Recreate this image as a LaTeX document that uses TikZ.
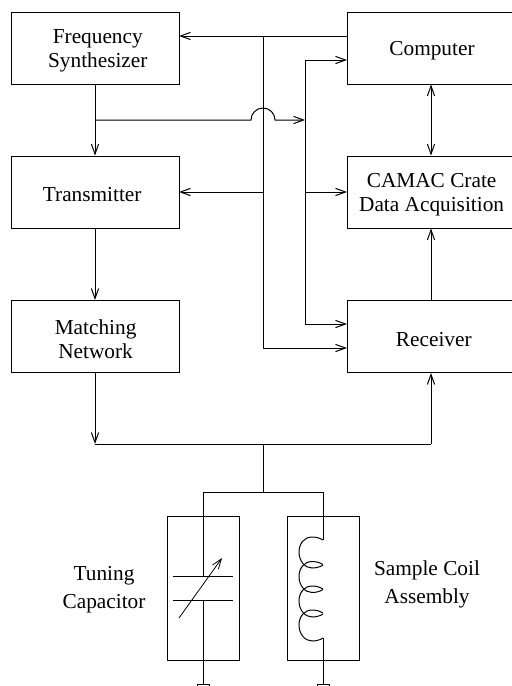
\documentclass[tikz,border=0pt]{standalone}
\usepackage{fontspec}
\setmainfont{Liberation Serif}
\usepackage{tikz}
\usetikzlibrary{arrows.meta}

\begin{document}
\begin{tikzpicture}[x=0.5pt,y=-0.5pt,line width=0.5pt,font=\fontsize{10.65}{12}\selectfont]
\tikzstyle{block}=[rectangle, draw=black, line width=0.5pt, minimum width=84pt, minimum height=36pt, inner sep=0pt]
\tikzstyle{part}=[rectangle, draw=black, line width=0.5pt, minimum width=36pt, minimum height=72pt, inner sep=0pt]
\tikzstyle{ground}=[rectangle, draw=black, line width=0.5pt, minimum width=6pt, minimum height=3pt, inner sep=0pt, anchor=north]
\tikzstyle{tag}=[align=center, inner sep=0pt, font=\fontsize{10.65}{14}\selectfont]
\tikzstyle{connect}=[-{Straight Barb[length=5pt,width=3.6pt]}]
\tikzstyle{both}=[{Straight Barb[length=5pt,width=3.6pt]}-{Straight Barb[length=5pt,width=3.6pt]}]
\clip (0,0) rectangle (512,686);
	\node[block] (freq) at (95,48) [label={[align=center,xshift=1.4pt,yshift=-1.4pt]center:{Frequency\\Synthesizer}}]{};
	\node[block] (trans) at (95,192) [label={[xshift=-1.4pt,yshift=-1.4pt]center:{Transmitter}}]{};
	\node[block] (match) at (95,336.5) [label={[align=center,xshift=0.3pt,yshift=-1.4pt]center:{Matching\\Network}}]{};
	\node[block] (comp) at (431,48) [label={[xshift=0.5pt,yshift=-1.4pt]center:{Computer}}]{};
	\node[block] (camac) at (431,192) [label={[align=center,xshift=0.3pt,yshift=-1.4pt]center:{CAMAC Crate\\Data Acquisition}}]{};
	\node[block] (recv) at (431,336.5) [label={[xshift=1.4pt,yshift=-1.4pt]center:{Receiver}}]{};
	\node[part] (capbox) at (203,588.5) {};
	\node[part] (coilbox) at (323,588.5) {};
	\node[tag] (captag) at (104,590) {Tuning\\Capacitor};
	\node[tag] (coiltag) at (427,584) {Sample Coil\\Assembly};
	\node[ground] (gnd_1) at (203,684) {};
	\node[ground] (gnd_2) at (323,684) {};

	\coordinate (a_top) at (263,36);
	\coordinate (a_comp) at (347,36);
	\coordinate (a_freq) at (179,36);
	\coordinate (a_trans) at (179,192);
	\coordinate (a_mid) at (263,192);
	\coordinate (a_bot) at (263,348);
	\coordinate (a_recv) at (347,348);
	\coordinate (b_comp) at (347,60);
	\coordinate (b_top) at (305,60);
	\coordinate (b_hop) at (305,120);
	\coordinate (b_mid) at (305,192);
	\coordinate (b_camac) at (347,192);
	\coordinate (b_bot) at (305,324);
	\coordinate (b_recv) at (347,324);
	\coordinate (hop_tee) at (95,120);
	\coordinate (hop_in) at (251,120);
	\coordinate (rail_l) at (95,444);
	\coordinate (rail_m) at (263,444);
	\coordinate (rail_r) at (431,444);
	\coordinate (fork_m) at (263,492);
	\coordinate (fork_l) at (203,492);
	\coordinate (fork_r) at (323,492);
	\coordinate (plate_1) at (203,576.7);
	\coordinate (plate_2) at (203,600.7);
	\coordinate (plate_1l) at (173,576.7);
	\coordinate (plate_1r) at (233,576.7);
	\coordinate (plate_2l) at (173,600.7);
	\coordinate (plate_2r) at (233,600.7);
	\coordinate (tune_a) at (179,618);
	\coordinate (tune_b) at (222,558);
	\coordinate (coil_a) at (323,540);
	\coordinate (coil_b) at (323,638);

	\path
		(a_comp) edge [connect] (a_freq)
		(a_mid) edge [connect] (a_trans)
		(a_top) edge [] (a_bot)
		(a_bot) edge [connect] (a_recv)
		(b_top) edge [connect] (b_comp)
		(b_top) edge [] (b_bot)
		(b_mid) edge [connect] (b_camac)
		(b_bot) edge [connect] (b_recv)
		(freq) edge [connect] (trans)
		(trans) edge [connect] (match)
		(comp) edge [both] (camac)
		(recv) edge [connect] (camac)
		(match) edge [connect] (rail_l)
		(rail_l) edge [] (rail_r)
		(rail_r) edge [connect] (recv)
		(rail_m) edge [] (fork_m)
		(fork_l) edge [] (fork_r)
		(fork_l) edge [] (plate_1)
		(plate_2) edge [] (gnd_1.north)
		(plate_1l) edge [] (plate_1r)
		(plate_2l) edge [] (plate_2r)
		(fork_r) edge [] (coil_a)
		(coil_b) edge [] (gnd_2.north);
	\draw[connect] (hop_tee) -- (hop_in) arc[start angle=180,end angle=0,radius=6pt] -- (b_hop);
	\draw[-{Straight Barb[length=5pt,width=3.6pt]},line width=0.4pt] (tune_a) -- (tune_b);
	% coil turns
	\foreach \k in {540,564.5,589,613}
		\draw[line width=0.5pt] (323,\k) .. controls (319,\k-2.5) and (315,\k-3) .. (312,\k-3)
			.. controls (304,\k-3) and (299,\k+4) .. (299,\k+12)
			.. controls (299,\k+21) and (305,\k+28) .. (312,\k+28)
			.. controls (316,\k+28) and (320,\k+27) .. (323,\k+25);
\end{tikzpicture}
\end{document}
